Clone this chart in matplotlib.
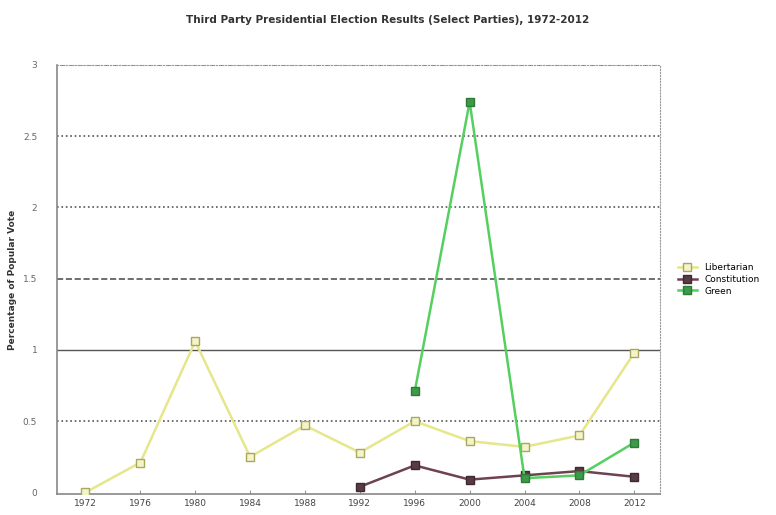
import matplotlib.pyplot as plt
import numpy as np

# Datos
anios = [1972, 1976, 1980, 1984, 1988, 1992, 1996, 2000, 2004, 2008, 2012]
libertario = [0.0, 0.21, 1.06, 0.25, 0.47, 0.28, 0.50, 0.36, 0.32, 0.40, 0.98]
anios_const = [1992, 1996, 2000, 2004, 2008, 2012]
constitucion = [0.04, 0.19, 0.09, 0.12, 0.15, 0.11]
anios_verde = [1996, 2000, 2004, 2008, 2012]
verde = [0.71, 2.74, 0.10, 0.12, 0.35]
y_ticks = [0, 0.5, 1, 1.5, 2, 2.5, 3]
y_labels = ['0', '0.5', '1', '1.5', '2', '2.5', '3']

fig = plt.figure(figsize=(7.76, 5.15), dpi=100)
ax = fig.add_axes([0.073, 0.041, 0.778, 0.833])

# Lineas de la cuadricula
estilos = {0.5: ':', 1: '-', 1.5: '--', 2: ':', 2.5: ':', 3: ':'}
for v, ls in estilos.items():
    ax.axhline(v, color='#555555', lw=1.2 if ls != '-' else 1.0, ls=ls, zorder=1)

ax.plot(anios, libertario, color='#e6e68a', lw=1.8, marker='s', ms=6,
        mfc='#f4f4c8', mec='#a8a860', label='Libertarian', zorder=3)
ax.plot(anios_const, constitucion, color='#6e4250', lw=1.8, marker='s', ms=6,
        mfc='#5a3a44', mec='#3e2a30', label='Constitution', zorder=3)
ax.plot(anios_verde, verde, color='#55d060', lw=1.8, marker='s', ms=6,
        mfc='#3c9a48', mec='#2e7a38', label='Green', zorder=4)

ax.set_xlim(1969.9, 2013.9)
ax.set_ylim(-0.01, 3.0)
ax.set_xticks(anios)
ax.set_xticklabels([str(a) for a in anios], fontsize=6.5, color='#444444')
ax.set_yticks(y_ticks)
ax.set_yticklabels(y_labels, fontsize=6.5, color='#666666')
ax.tick_params(axis='x', direction='in', length=3, color='#999999', pad=4)
ax.tick_params(axis='y', length=0, pad=14)

for s in ['left', 'bottom']:
    ax.spines[s].set_color('#888888')
    ax.spines[s].set_linewidth(1.2)
for s in ['top', 'right']:
    ax.spines[s].set_color('#999999')
    ax.spines[s].set_linestyle(':')

ax.set_ylabel('Percentage of Popular Vote', fontsize=6.5, fontweight='bold',
              color='#333333', labelpad=4)
fig.text(0.5, 0.955, 'Third Party Presidential Election Results (Select Parties), 1972-2012',
         ha='center', fontsize=7.5, fontweight='bold', color='#333333')

ax.legend(loc='center left', bbox_to_anchor=(1.0, 0.5), frameon=False,
          fontsize=6.5, handlelength=2.2, labelspacing=0.3, borderaxespad=1.5)

fig.savefig('out.png', dpi=100)
